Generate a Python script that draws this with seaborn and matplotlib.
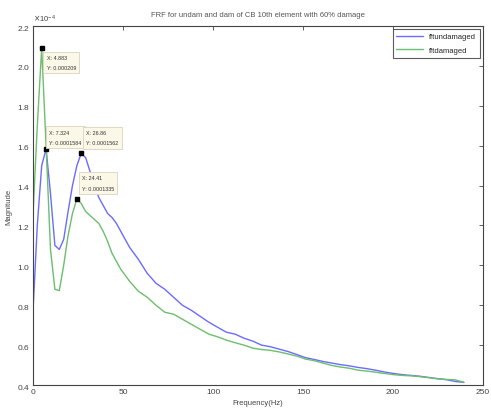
import numpy as np
import pandas as pd
import matplotlib
matplotlib.use("Agg")
import matplotlib.pyplot as plt
import seaborn as sns
from matplotlib.ticker import ScalarFormatter

freq = [0, 2.441, 4.883, 7.324, 9.766, 12.21, 14.65, 17.09, 19.53, 21.97, 24.41, 26.86,
        29.3, 31.74, 34.18, 36.62, 39.06, 41.5, 43.95, 46.39, 48.83, 53.71, 58.59, 63.48,
        68.36, 73.24, 78.13, 83.01, 87.89, 92.77, 97.66, 102.5, 107.4, 112.3, 117.2, 122.1,
        127.0, 131.8, 136.7, 141.6, 146.5, 151.4, 156.3, 161.1, 166.0, 170.9, 175.8, 180.7,
        185.5, 190.4, 195.3, 200.2, 205.1, 210.0, 214.8, 219.7, 224.6, 229.5, 234.4, 239.3]

# magnitudes in units of 1e-4
undamaged = [0.76, 1.20, 1.50, 1.584, 1.36, 1.10, 1.08, 1.13, 1.27, 1.40, 1.50, 1.562,
             1.54, 1.47, 1.40, 1.34, 1.30, 1.26, 1.24, 1.21, 1.17, 1.09, 1.03, 0.96,
             0.91, 0.88, 0.84, 0.80, 0.775, 0.745, 0.715, 0.69, 0.665, 0.655, 0.635, 0.62,
             0.60, 0.592, 0.58, 0.568, 0.553, 0.537, 0.528, 0.518, 0.51, 0.502, 0.496, 0.488,
             0.482, 0.474, 0.465, 0.458, 0.452, 0.448, 0.444, 0.438, 0.432, 0.427, 0.418, 0.413]
damaged = [1.24, 1.70, 2.09, 1.60, 1.08, 0.88, 0.873, 1.00, 1.15, 1.26, 1.3335, 1.31,
           1.27, 1.25, 1.23, 1.21, 1.17, 1.12, 1.06, 1.02, 0.98, 0.92, 0.87, 0.84,
           0.80, 0.765, 0.755, 0.73, 0.705, 0.68, 0.655, 0.642, 0.625, 0.612, 0.60, 0.585,
           0.578, 0.574, 0.566, 0.556, 0.545, 0.53, 0.522, 0.51, 0.498, 0.49, 0.484, 0.474,
           0.47, 0.464, 0.458, 0.452, 0.448, 0.446, 0.442, 0.437, 0.431, 0.428, 0.426, 0.414]

series_names = ["fftundamaged", "fftdamaged"]

tip_x = [4.883, 7.324, 26.86, 24.41]
tip_y = [0.000209, 0.0001584, 0.0001562, 0.0001335]
tip_labels = ["X: 4.883\nY: 0.000209", "X: 7.324\nY: 0.0001584",
              "X: 26.86\nY: 0.0001562", "X: 24.41\nY: 0.0001335"]

title = "FRF for undam and dam of CB 10th element with 60% damage"

sns.set_theme(style="white")
plt.rcParams['font.family'] = ['Liberation Sans Narrow', 'Liberation Sans', 'DejaVu Sans']

df = pd.DataFrame({
    "freq": freq * 2,
    "mag": np.array(undamaged + damaged) * 1e-4,
    "series": [series_names[0]] * len(freq) + [series_names[1]] * len(freq),
})

fig = plt.figure(figsize=(4.91, 4.10), dpi=100)
ax = fig.add_axes([0.067, 0.0585, 0.917, 0.8755])

sns.lineplot(data=df, x="freq", y="mag", hue="series", sort=False,
             palette={"fftundamaged": "#6b6bff", "fftdamaged": "#6cbf6c"},
             linewidth=1.0, ax=ax)

ax.set_xlim(0, 250)
ax.set_ylim(0.4e-4, 2.2e-4)
ax.set_xticks([0, 50, 100, 150, 200, 250])
ax.set_yticks(np.array([0.4, 0.6, 0.8, 1.0, 1.2, 1.4, 1.6, 1.8, 2.0, 2.2]) * 1e-4)
fmt = ScalarFormatter(useMathText=True)
fmt.set_powerlimits((0, 0))
ax.yaxis.set_major_formatter(fmt)
ax.yaxis.get_offset_text().set_fontsize(5.5)
ax.yaxis.get_offset_text().set_color("#444444")

ax.tick_params(direction="in", length=3, width=0.6, labelsize=6, colors="#444444",
               top=True, right=True, pad=2)
for s in ax.spines.values():
    s.set_color("#444444")
    s.set_linewidth(0.8)

ax.set_title(title, fontsize=5.5, color="#555555", pad=7)
ax.set_xlabel("Frequency(Hz)", fontsize=5.5, color="#444444", labelpad=3)
ax.set_ylabel("Magnitude", fontsize=5.5, color="#444444", labelpad=3)

offsets = [(5, -7, "top"), (3, 4, "bottom"), (5, 8, "bottom"), (5, 8, "bottom")]
for x, y, lab, (dx, dy, va) in zip(tip_x, tip_y, tip_labels, offsets):
    ax.plot([x], [y], marker="s", color="black", markersize=3.5, zorder=5)
    ax.annotate(lab, xy=(x, y), xytext=(dx, dy), textcoords="offset pixels",
                ha="left", va=va, fontsize=3.9, color="#333333", linespacing=2.3,
                bbox=dict(boxstyle="square,pad=0.6", fc="#fbf8e8", ec="#d8d4c0", lw=0.6),
                zorder=6)

leg = ax.legend(loc="upper right", fontsize=5.5, frameon=True, fancybox=False,
                handlelength=3.5, borderpad=0.5, labelspacing=0.8,
                borderaxespad=0.4, title=None)
leg.get_frame().set_edgecolor("#333333")
leg.get_frame().set_linewidth(0.8)

fig.savefig("out.png", dpi=100)
